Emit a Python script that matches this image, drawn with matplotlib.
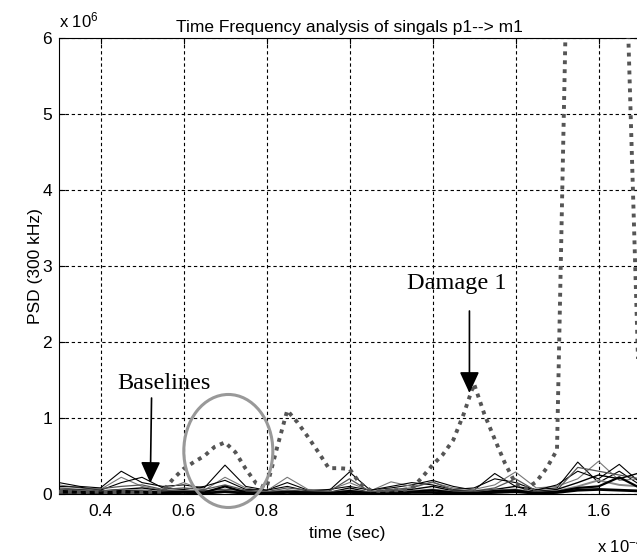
import matplotlib
matplotlib.use('Agg')
import matplotlib.pyplot as plt
from matplotlib.patches import Ellipse
from matplotlib.ticker import FormatStrFormatter

plt.rcParams['font.family'] = ['Liberation Sans', 'DejaVu Sans']
plt.rcParams['mathtext.fontset'] = 'custom'
plt.rcParams['mathtext.rm'] = 'Liberation Sans'
plt.rcParams['mathtext.it'] = 'Liberation Sans'

# --- データ (time: x1e-4 s, PSD: x1e6) ---
t_base = [0.30, 0.35, 0.40, 0.45, 0.50, 0.55, 0.60, 0.65, 0.70, 0.75,
          0.80, 0.85, 0.90, 0.95, 1.00, 1.05, 1.10, 1.15, 1.20, 1.25,
          1.30, 1.35, 1.40, 1.45, 1.50, 1.55, 1.60, 1.65, 1.70, 1.75]

b1 = [0.15, 0.10, 0.08, 0.30, 0.15, 0.10, 0.12, 0.08, 0.38, 0.10, 0.05, 0.15, 0.05, 0.04, 0.29,
      0.05, 0.08, 0.12, 0.18, 0.10, 0.05, 0.27, 0.10, 0.06, 0.08, 0.42, 0.15, 0.30, 0.12, 0.10]
b2 = [0.12, 0.08, 0.06, 0.22, 0.10, 0.05, 0.15, 0.05, 0.22, 0.08, 0.04, 0.22, 0.06, 0.05, 0.15,
      0.04, 0.16, 0.10, 0.15, 0.08, 0.06, 0.12, 0.29, 0.08, 0.10, 0.20, 0.43, 0.18, 0.20, 0.10]
b3 = [0.10, 0.09, 0.05, 0.15, 0.22, 0.08, 0.06, 0.10, 0.18, 0.06, 0.05, 0.10, 0.04, 0.06, 0.10,
      0.05, 0.10, 0.15, 0.12, 0.06, 0.08, 0.20, 0.15, 0.05, 0.12, 0.30, 0.20, 0.39, 0.15, 0.08]
b4 = [0.08, 0.06, 0.07, 0.10, 0.12, 0.06, 0.08, 0.06, 0.12, 0.05, 0.03, 0.08, 0.05, 0.03, 0.20,
      0.03, 0.06, 0.08, 0.16, 0.05, 0.04, 0.08, 0.20, 0.04, 0.05, 0.35, 0.30, 0.25, 0.20, 0.12]
b5 = [0.06, 0.05, 0.04, 0.06, 0.08, 0.04, 0.05, 0.04, 0.06, 0.04, 0.02, 0.05, 0.03, 0.02, 0.08,
      0.02, 0.04, 0.06, 0.10, 0.04, 0.03, 0.06, 0.10, 0.03, 0.06, 0.15, 0.25, 0.20, 0.28, 0.10]
b6 = [0.05, 0.04, 0.03, 0.05, 0.05, 0.03, 0.04, 0.03, 0.05, 0.03, 0.02, 0.04, 0.02, 0.02, 0.05,
      0.02, 0.03, 0.04, 0.06, 0.03, 0.02, 0.05, 0.06, 0.02, 0.04, 0.10, 0.18, 0.12, 0.10, 0.06]
b7 = [0.04, 0.03, 0.02, 0.04, 0.03, 0.02, 0.03, 0.02, 0.10, 0.02, 0.01, 0.03, 0.02, 0.01, 0.04,
      0.01, 0.02, 0.03, 0.05, 0.02, 0.01, 0.04, 0.05, 0.01, 0.03, 0.08, 0.10, 0.22, 0.08, 0.05]
b8 = [0.02, 0.02, 0.01, 0.02, 0.02, 0.01, 0.02, 0.01, 0.03, 0.01, 0.01, 0.02, 0.01, 0.01, 0.02,
      0.01, 0.01, 0.02, 0.02, 0.01, 0.01, 0.02, 0.03, 0.01, 0.02, 0.05, 0.06, 0.05, 0.04, 0.03]
baselines = [b1, b2, b3, b4, b5, b6, b7, b8]
base_colors = ['black', '#777777', 'black', '#555555', 'black', '#888888', 'black', 'black']
base_widths = [0.8, 0.8, 0.8, 0.9, 1.0, 1.4, 1.6, 2.0]

t_dmg = [0.300, 0.325, 0.350, 0.375, 0.400, 0.425, 0.450, 0.475, 0.500, 0.525,
         0.550, 0.575, 0.600, 0.625, 0.650, 0.675, 0.700, 0.725, 0.750, 0.775,
         0.800, 0.825, 0.850, 0.875, 0.900, 0.925, 0.950, 0.975, 1.000, 1.025,
         1.050, 1.075, 1.100, 1.125, 1.150, 1.175, 1.200, 1.225, 1.250, 1.275,
         1.300, 1.325, 1.350, 1.375, 1.400, 1.425, 1.450, 1.475, 1.500, 1.525,
         1.550, 1.575, 1.600, 1.625, 1.650, 1.675, 1.700, 1.725, 1.750]
damage1 = [0.03, 0.03, 0.02, 0.03, 0.03, 0.02, 0.03, 0.02, 0.02, 0.03,
           0.03, 0.20, 0.33, 0.42, 0.50, 0.62, 0.68, 0.55, 0.33, 0.14,
           0.08, 0.60, 1.10, 0.94, 0.75, 0.55, 0.34, 0.34, 0.33, 0.14,
           0.05, 0.04, 0.05, 0.05, 0.07, 0.22, 0.38, 0.52, 0.71, 1.05,
           1.45, 1.05, 0.72, 0.40, 0.14, 0.07, 0.16, 0.34, 0.58, 7.30,
           18.0, 25.0, 27.0, 20.0, 10.0, 5.45, 0.90, 0.30, 0.20]

xticks = [0.4, 0.6, 0.8, 1.0, 1.2, 1.4, 1.6]
yticks = [0, 1, 2, 3, 4, 5, 6]

# --- 描画 ---
fig = plt.figure(figsize=(6.37, 5.55), dpi=100)
ax = fig.add_axes([59 / 637, 61 / 555, 581 / 637, 456 / 555])

for b, c, w in zip(baselines, base_colors, base_widths):
    ax.plot(t_base, b, color=c, lw=w, zorder=2)

ax.plot(t_dmg, damage1, color='#555555', lw=2.8, linestyle=(0, (1, 1.3)),
        dash_capstyle='butt', zorder=3)

ax.set_xlim(0.3, 1.7)
ax.set_ylim(0, 6)
ax.set_xticks(xticks)
ax.set_yticks(yticks)
ax.xaxis.set_major_formatter(FormatStrFormatter('%g'))
ax.tick_params(direction='in', length=4, labelsize=12.5, top=True, right=True)
ax.tick_params(axis='x', pad=7)
ax.tick_params(axis='y', pad=5)
ax.grid(True, color='black', lw=0.8, linestyle=(0, (3, 2.5)), zorder=1)
ax.set_axisbelow(True)

ax.set_title('Time Frequency analysis of singals p1--> m1', fontsize=12.5, pad=4)
ax.set_xlabel('time (sec)', fontsize=12.5)
ax.set_ylabel('PSD (300 kHz)', fontsize=12.5)
ax.xaxis.set_label_coords((347 - 59) / 581, -(526 - 494) / 456)
ax.xaxis.label.set_va('top')
ax.yaxis.set_label_coords(-(59 - 43) / 581, 0.5)

fig.text(59 / 637, (555 - 27) / 555, r'x 10$^{6}$', fontsize=12, va='baseline', ha='left')
fig.text(597 / 637, (555 - 552) / 555, r'x 10$^{-4}$', fontsize=12, va='baseline', ha='left')

# 注釈
serif = ['Liberation Serif', 'DejaVu Serif']
ax.text(0.552, 1.46, 'Baselines', family=serif, fontsize=17.5, ha='center', va='center')
ax.annotate('', xy=(0.520, 0.145), xytext=(0.523, 1.263),
            arrowprops=dict(arrowstyle='-|>,head_length=1.3,head_width=0.6',
                            mutation_scale=10, lw=1.2, color='black',
                            shrinkA=0, shrinkB=0))
ax.text(1.258, 2.77, 'Damage 1', family=serif, fontsize=17.5, ha='center', va='center')
ax.annotate('', xy=(1.289, 1.329), xytext=(1.289, 2.408),
            arrowprops=dict(arrowstyle='-|>,head_length=1.3,head_width=0.6',
                            mutation_scale=10, lw=1.2, color='black',
                            shrinkA=0, shrinkB=0))

ax.add_patch(Ellipse((0.708, 0.566), 0.2145, 1.487, fill=False,
                     edgecolor='#999999', lw=2.2, clip_on=False, zorder=4))

fig.savefig('out.png', dpi=100)
